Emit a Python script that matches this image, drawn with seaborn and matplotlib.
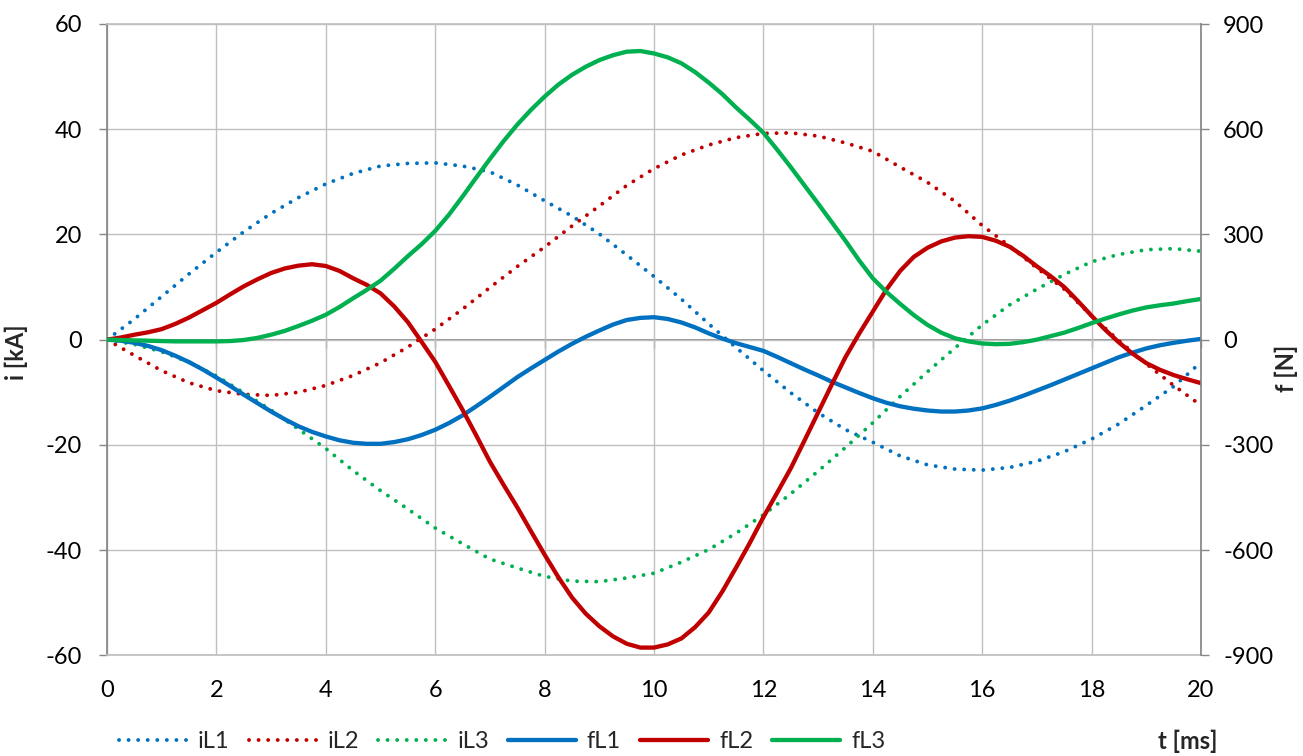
import numpy as np
import matplotlib
matplotlib.use("Agg")
import matplotlib.pyplot as plt
import seaborn as sns

# czas [ms]: prądy co 0.5 ms, siły co 0.25 ms
t_i = np.arange(0, 20.5, 0.5)
t_f = np.arange(0, 20.25, 0.25)

# prądy fazowe [kA]
iL1 = [0, 3.9, 8.2, 12.5, 16.6, 20.5, 24.0, 27.0, 29.6, 31.6, 33.0, 33.5, 33.6, 33.0, 31.9, 29.4,
       26.4, 23.5, 20.1, 16.1, 12.0, 7.7, 3.0, -1.5, -5.9, -10.1, -13.9, -17.1, -19.5, -22.1, -23.8,
       -24.6, -24.8, -24.3, -23.1, -21.3, -18.9, -16.0, -12.5, -8.9, -4.3]
iL2 = [0, -3.0, -5.9, -8.2, -9.7, -10.4, -10.6, -10.0, -8.7, -6.8, -4.4, -1.4, 2.0, 5.8, 9.9, 13.9,
       17.6, 21.6, 25.4, 29.3, 32.5, 35.1, 37.0, 38.4, 39.2, 39.3, 38.7, 37.4, 35.8, 32.8, 29.9,
       26.3, 21.7, 17.8, 13.6, 9.6, 4.5, -0.2, -4.6, -8.7, -12.5]
iL3 = [0, -0.9, -2.3, -4.3, -6.9, -10.1, -13.4, -17.0, -20.7, -24.9, -28.7, -32.2, -35.8, -38.8,
       -41.7, -43.4, -45.0, -45.9, -46.0, -45.3, -44.4, -42.3, -39.9, -36.8, -33.3, -29.3, -25.0,
       -20.5, -15.8, -10.8, -6.1, -1.6, 2.8, 6.6, 9.6, 12.4, 14.8, 16.2, 17.1, 17.3, 16.8]

# siły [N], po 4 wartości na każdą ms
fL1 = [0, -3, -9, -18, -30, -46, -64, -85, -108, -132, -157, -181, -205, -227, -247, -263,
       -276, -287, -294, -297, -297, -292, -284, -272, -257, -238, -216, -190, -163, -135, -107, -82,
       -58, -34, -12, 8, 26, 43, 56, 62, 64, 59, 49, 35, 18, 3, -10, -21,
       -32, -49, -67, -85, -102, -120, -136, -152, -167, -180, -190, -197, -202, -205, -205, -202,
       -196, -186, -174, -160, -145, -130, -114, -98, -82, -66, -50, -37, -25, -16, -9, -3,
       2]
fL2 = [0, 6, 14, 21, 30, 45, 63, 84, 105, 129, 152, 172, 190, 203, 211, 215,
       210, 196, 175, 156, 132, 95, 50, -6, -63, -131, -200, -273, -348, -414, -478, -546,
       -613, -677, -735, -781, -817, -846, -867, -878, -878, -869, -852, -820, -778, -718, -650, -580,
       -506, -437, -367, -288, -208, -128, -50, 17, 80, 143, 196, 236, 262, 280, 291, 295,
       293, 282, 265, 239, 209, 181, 150, 110, 68, 28, -8, -40, -67, -86, -101, -113,
       -124]
fL3 = [0, -1, -2, -3, -4, -5, -5, -5, -5, -4, -1, 5, 14, 25, 39, 54,
       71, 93, 118, 142, 168, 202, 238, 272, 310, 356, 408, 462, 515, 566, 613, 655,
       693, 727, 755, 778, 797, 811, 821, 823, 816, 805, 788, 763, 733, 700, 662, 627,
       590, 542, 492, 440, 388, 335, 282, 226, 175, 136, 102, 70, 42, 20, 4, -5,
       -11, -13, -12, -7, 0, 10, 20, 33, 47, 60, 72, 83, 92, 98, 103, 110,
       116]

t_ticks = list(range(0, 21, 2))
i_ticks = list(range(-60, 61, 20))
f_ticks = list(range(-900, 901, 300))

sns.set_theme(style="white")
plt.rcParams['font.family'] = ['Lato', 'DejaVu Sans']
plt.rcParams['font.size'] = 17
plt.rcParams['axes.unicode_minus'] = False

kolory = {'L1': '#0070C0', 'L2': '#C00000', 'L3': '#00B050'}
kropki = (0, (0.01, 2.45))
siatka = '#BFBFBF'
os_kolor = '#868686'

fig = plt.figure(figsize=(13.03, 7.56), dpi=100)
ax = fig.add_axes([107 / 1303, 1 - 655.3 / 756, 1094 / 1303, 631.3 / 756])
ax2 = ax.twinx()

for nazwa, wart in [('iL1', iL1), ('iL2', iL2), ('iL3', iL3)]:
    sns.lineplot(x=t_i, y=wart, ax=ax, color=kolory[nazwa[1:]], lw=2.8, linestyle=kropki,
                 dash_capstyle='round', label=nazwa)
for nazwa, wart in [('fL1', fL1), ('fL2', fL2), ('fL3', fL3)]:
    sns.lineplot(x=t_f, y=wart, ax=ax2, color=kolory[nazwa[1:]], lw=3.1,
                 solid_joinstyle='round', label=nazwa)

for a in (ax, ax2):
    if a.get_legend() is not None:
        a.get_legend().remove()

ax.set_xlim(0, 20)
ax.set_ylim(-60, 60)
ax2.set_ylim(-900, 900)
ax.set_xticks(t_ticks)
ax.set_yticks(i_ticks)
ax2.set_yticks(f_ticks)

ax.set_axisbelow(True)
ax.grid(True, color=siatka, lw=1.0)
ax2.grid(False)

for s in ('top', 'bottom'):
    ax.spines[s].set_color(siatka)
ax.spines['left'].set_color(os_kolor)
ax.spines['right'].set_visible(False)
for s in ('top', 'bottom', 'left'):
    ax2.spines[s].set_visible(False)
ax2.spines['right'].set_color(os_kolor)

ax.tick_params(axis='y', left=True, direction='out', length=6, width=1, color=os_kolor,
               pad=12, labelsize=17, labelcolor='black')
ax.tick_params(axis='x', bottom=False, length=0, pad=18, labelsize=17, labelcolor='black')
ax2.tick_params(axis='y', right=True, direction='out', length=6, width=1, color=os_kolor,
                pad=10, labelsize=17, labelcolor='black')

# oś czasu przechodząca przez zero
zero = ax.secondary_xaxis(0.5)
zero.set_alignment('bottom')
zero.set_xticks(t_ticks)
zero.tick_params(axis='x', bottom=True, top=False, direction='out', length=6, width=1,
                 color=os_kolor, labelbottom=False, labeltop=False)
zero.spines['bottom'].set_color(os_kolor)

ax.set_ylabel('i [kA]', fontweight='bold', fontsize=17)
ax.yaxis.set_label_coords(-0.072, 0.48)
ax2.set_ylabel('f [N]', fontweight='bold', fontsize=17)
ax2.yaxis.set_label_coords(1.067, 0.455)
ax.set_xlabel('t [ms]', fontweight='bold', fontsize=17)
ax.xaxis.label.set_va('center')
ax.xaxis.set_label_coords(0.988, -0.137)

h1, l1 = ax.get_legend_handles_labels()
h2, l2 = ax2.get_legend_handles_labels()
fig.legend(h1 + h2, l1 + l2, ncol=6, loc='center left', bbox_to_anchor=(119 / 1303, 1 - 742 / 756),
           frameon=False, fontsize=17, handlelength=2.9, handletextpad=0.45, columnspacing=0.8,
           borderpad=0, borderaxespad=0)

fig.savefig('out.png', dpi=100, facecolor='white')
